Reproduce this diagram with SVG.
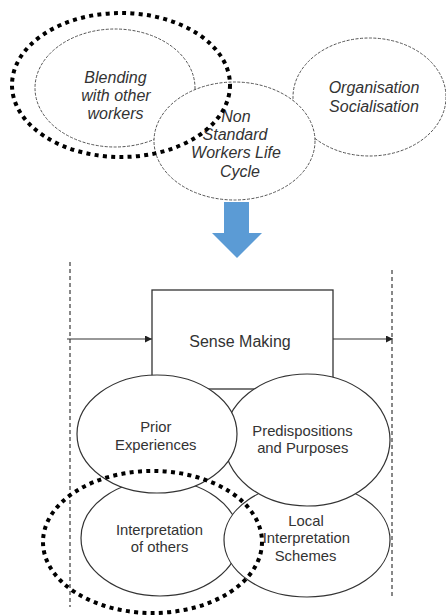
<svg xmlns="http://www.w3.org/2000/svg" width="446" height="615" viewBox="0 0 446 615">
  <defs>
    <marker id="head" viewBox="0 0 10 10" refX="10" refY="5" markerWidth="7" markerHeight="7" markerUnits="userSpaceOnUse" orient="auto">
      <path d="M0,0 L10,5 L0,10 Z" fill="#222"/>
    </marker>
  </defs>
  <style>
    .bg { fill: #ffffff; }
    .soft { fill: #ffffff; stroke: #555; stroke-width: 1; stroke-dasharray: 3 1.5; }
    .solid { fill: #ffffff; stroke: #333; stroke-width: 1.2; }
    .box { fill: #ffffff; stroke: #333; stroke-width: 1.3; }
    .lbl-i { font-family: "Liberation Sans", Arial, sans-serif; font-style: italic; font-size: 16px; fill: #333; text-anchor: middle; }
    .lbl { font-family: "Liberation Sans", Arial, sans-serif; font-size: 14.8px; fill: #333; text-anchor: middle; }
    .lbl-b { font-family: "Liberation Sans", Arial, sans-serif; font-size: 16px; fill: #333; text-anchor: middle; }
    .flow { stroke: #333; stroke-width: 1.2; fill: none; marker-end: url(#head); }
    .bound { stroke: #111; stroke-width: 1; stroke-dasharray: 4 3; fill: none; }
    .focus { fill: none; stroke: #000; stroke-width: 4; stroke-dasharray: 4 4.3; }
  </style>

  <rect class="bg" x="0" y="0" width="446" height="615"/>

  <!-- upper cluster: life cycle and its neighbours -->
  <g id="organisation-socialisation">
    <ellipse class="soft" cx="369.5" cy="97" rx="76.5" ry="59"/>
    <text class="lbl-i" x="374" y="93.3">Organisation</text>
    <text class="lbl-i" x="374" y="111.7">Socialisation</text>
  </g>
  <g id="blending">
    <ellipse class="soft" cx="115" cy="88" rx="80" ry="59"/>
    <text class="lbl-i" x="115.5" y="83.3">Blending</text>
    <text class="lbl-i" x="116" y="101">with other</text>
    <text class="lbl-i" x="115.5" y="118.5">workers</text>
  </g>
  <g id="life-cycle">
    <ellipse class="soft" cx="234.5" cy="141" rx="80.5" ry="59"/>
    <text class="lbl-i" x="236" y="121.7">Non</text>
    <text class="lbl-i" x="235" y="140">Standard</text>
    <text class="lbl-i" x="236" y="158.3">Workers Life</text>
    <text class="lbl-i" x="240" y="176.7">Cycle</text>
  </g>

  <!-- block arrow down to the sense making frame -->
  <g id="transition">
    <path d="M224,202 H249 V233 H262 L237,258 L212,233 H224 Z" fill="#5b9bd5"/>
  </g>

  <!-- sense making frame -->
  <g id="connectors">
    <line class="bound" x1="70" y1="262" x2="70" y2="607"/>
    <line class="bound" x1="392" y1="270" x2="392" y2="597"/>
    <line class="flow" x1="67" y1="339" x2="152" y2="339"/>
    <line class="flow" x1="333" y1="339" x2="393" y2="339"/>
  </g>

  <g id="sense-making">
    <rect class="box" x="152" y="290" width="181" height="99"/>
    <text class="lbl-b" x="240" y="346.7">Sense Making</text>
  </g>

  <g id="interpretation-of-others">
    <ellipse class="solid" cx="160" cy="538" rx="79" ry="58"/>
    <text class="lbl" x="159.5" y="535">Interpretation</text>
    <text class="lbl" x="159.5" y="552">of others</text>
  </g>
  <g id="local-schemes">
    <ellipse class="solid" cx="307" cy="540" rx="83" ry="57"/>
    <text class="lbl" x="306" y="525.7">Local</text>
    <text class="lbl" x="306.3" y="543.3">Interpretation</text>
    <text class="lbl" x="305.5" y="560.7">Schemes</text>
  </g>
  <g id="predispositions">
    <ellipse class="solid" cx="307" cy="440" rx="83" ry="66"/>
    <text class="lbl" x="302.5" y="436">Predispositions</text>
    <text class="lbl" x="302.8" y="453.3">and Purposes</text>
  </g>
  <g id="prior-experiences">
    <ellipse class="solid" cx="157" cy="434" rx="80" ry="59"/>
    <text class="lbl" x="155.8" y="432.3">Prior</text>
    <text class="lbl" x="155.8" y="450">Experiences</text>
  </g>

  <!-- highlight rings -->
  <g id="highlights">
    <ellipse class="focus" cx="121" cy="85" rx="109" ry="72"/>
    <ellipse class="focus" cx="152.5" cy="542" rx="109.5" ry="71"/>
  </g>
</svg>
